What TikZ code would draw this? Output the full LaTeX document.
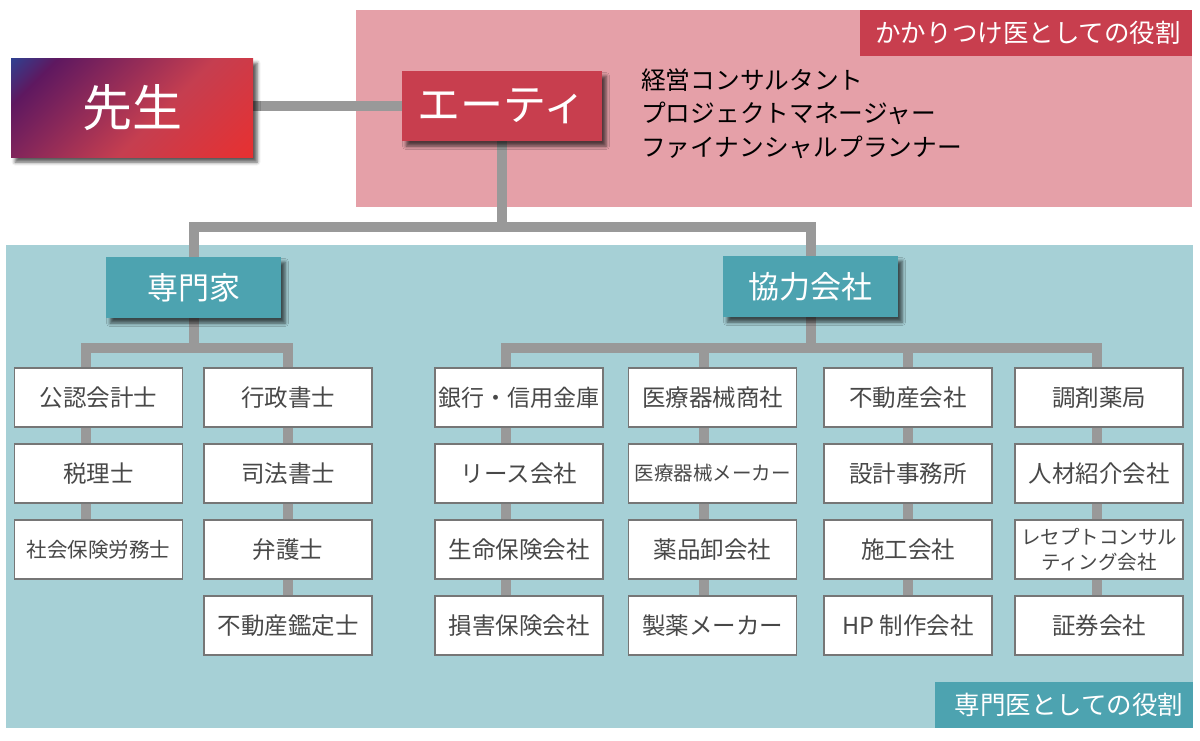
\documentclass[tikz,border=0pt]{standalone}
\usepackage{fontspec}
\setmainfont{Noto Sans CJK JP}
\usetikzlibrary{shadows.blur}
\definecolor{pinkbg}{HTML}{E5A0A8}
\definecolor{pinkdark}{HTML}{C83E4E}
\definecolor{tealbg}{HTML}{A6D0D6}
\definecolor{tealdark}{HTML}{4DA3B0}
\definecolor{conngray}{HTML}{999999}
\definecolor{boxborder}{HTML}{767676}
\definecolor{boxtext}{HTML}{484848}
\definecolor{sblue}{HTML}{2E4292}
\definecolor{spurple}{HTML}{5E1860}
\definecolor{scrimson}{HTML}{C53E50}
\definecolor{sred}{HTML}{E83030}
\pgfdeclarelayer{wires}
\pgfdeclarelayer{front}
\pgfsetlayers{main,wires,front}
\pgfdeclareverticalshading{sensei}{100bp}{color(0bp)=(sblue); color(25bp)=(sblue); color(32bp)=(spurple); color(55bp)=(scrimson); color(75bp)=(sred); color(100bp)=(sred)}
\tikzset{
  conn/.style={line width=10pt, draw=conngray},
  leaf/.style={draw=boxborder, line width=1.5pt, fill=white, minimum width=168pt, minimum height=59pt, inner sep=0pt, text=boxtext, font=\fontsize{23.5}{27}\selectfont, align=center},
  headshadow/.style={blur shadow={shadow xshift=4pt, shadow yshift=-5pt, shadow blur radius=3.5pt, shadow opacity=65}},
  head/.style={fill=tealdark, text=white, minimum height=61pt, inner sep=0pt, font=\fontsize{31}{36}\selectfont, headshadow},
  rolelabel/.style={text=white, inner sep=0pt, font=\fontsize{25.5}{28}\selectfont}
}
\begin{document}
\begin{tikzpicture}[x=1pt,y=-1pt]
\useasboundingbox (0,0) rectangle (1200,740);
% background regions (main layer, lowest)
\fill[fill=pinkbg] (356,10) rectangle (1192,207);
\fill[fill=tealbg] (6,245) rectangle (1193,728);

\begin{pgfonlayer}{front}
% role labels
\node[rolelabel, fill=pinkdark, minimum width=332pt, minimum height=46pt] (lab1) at (1026,33) {\hspace*{4pt}かかりつけ医としての役割};
\node[rolelabel, fill=tealdark, minimum width=258pt, minimum height=46pt] (lab2) at (1064,705) {\hspace*{10pt}専門医としての役割};

% top nodes
\node[minimum width=242pt, minimum height=99pt, inner sep=0pt, text=white, font=\fontsize{50}{58}\selectfont, headshadow,
  path picture={\shade[shading=sensei, shading angle=225] ([xshift=-122pt,yshift=-122pt]path picture bounding box.center) rectangle ([xshift=122pt,yshift=122pt]path picture bounding box.center);}] (sensei) at (132,107.5) {先生};
\node[fill=pinkdark, minimum width=200pt, minimum height=70pt, inner sep=0pt, text=white, font=\fontsize{43}{50}\selectfont, headshadow] (aty) at (502,106) {エーティ};
\node[anchor=west, align=left, inner sep=0pt, text=black, font=\fontsize{24.7}{33.5}\selectfont] (roles) at (641,113.5) {経営コンサルタント\\プロジェクトマネージャー\\ファイナンシャルプランナー};

% group heads
\node[head, minimum width=175pt] (senmon) at (193.5,287.5) {専門家};
\node[head, minimum width=175pt] (kyoryoku) at (810.5,286.5) {協力会社};

% column 1
\node[leaf] (a1) at (98.5,397.5) {公認会計士};
\node[leaf] (a2) at (98.5,473.5) {税理士};
\node[leaf, font=\fontsize{20.5}{24}\selectfont] (a3) at (98.5,549.5) {社会保険労務士};
% column 2
\node[leaf] (b1) at (288,397.5) {行政書士};
\node[leaf] (b2) at (288,473.5) {司法書士};
\node[leaf] (b3) at (288,549.5) {弁護士};
\node[leaf] (b4) at (288,625.5) {不動産鑑定士};
% column 3
\node[leaf, font=\fontsize{23}{27}\selectfont] (c1) at (519,397.5) {銀行・信用金庫};
\node[leaf] (c2) at (519,473.5) {リース会社};
\node[leaf] (c3) at (519,549.5) {生命保険会社};
\node[leaf] (c4) at (519,625.5) {損害保険会社};
% column 4
\node[leaf] (d1) at (712.5,397.5) {医療器械商社};
\node[leaf, font=\fontsize{19.5}{24}\selectfont] (d2) at (712.5,473.5) {医療器械メーカー};
\node[leaf] (d3) at (712.5,549.5) {薬品卸会社};
\node[leaf] (d4) at (712.5,625.5) {製薬メーカー};
% column 5
\node[leaf] (e1) at (908,397.5) {不動産会社};
\node[leaf] (e2) at (908,473.5) {設計事務所};
\node[leaf] (e3) at (908,549.5) {施工会社};
\node[leaf] (e4) at (908,625.5) {HP 制作会社};
% column 6
\node[leaf] (f1) at (1099,397.5) {調剤薬局};
\node[leaf] (f2) at (1099,473.5) {人材紹介会社};
\node[leaf, font=\fontsize{19.5}{25}\selectfont] (f3) at (1099,549.5) {レセプトコンサル\\ティング会社};
\node[leaf] (f4) at (1099,625.5) {証券会社};
\end{pgfonlayer}

% connectors
\coordinate (topbus) at (502,226.5);
\coordinate (sbusL) at (86,348);
\coordinate (sbusR) at (288,348);
\coordinate (kbusL) at (506,348);
\coordinate (kbusD) at (704,348);
\coordinate (kbusE) at (908,348);
\coordinate (kbusR) at (1097,348);
\begin{pgfonlayer}{wires}
  \draw[conn] (aty.center -| sensei.center) -- (aty.center);
  \draw[conn] (aty.center) -- (topbus);
  \draw[conn] (senmon.center) |- (topbus) -| (kyoryoku.center);
  \draw[conn] (senmon.center) -- (senmon.center |- sbusL);
  \draw[conn] (sbusL |- a3.center) -- (sbusL) -- (sbusR) -- (sbusR |- b4.center);
  \draw[conn] (kyoryoku.center) -- (kyoryoku.center |- kbusL);
  \draw[conn] (kbusL |- c4.center) -- (kbusL) -- (kbusR) -- (kbusR |- f4.center);
  \draw[conn] (kbusD) -- (kbusD |- d4.center);
  \draw[conn] (kbusE) -- (kbusE |- e4.center);
\end{pgfonlayer}
\end{tikzpicture}
\end{document}
